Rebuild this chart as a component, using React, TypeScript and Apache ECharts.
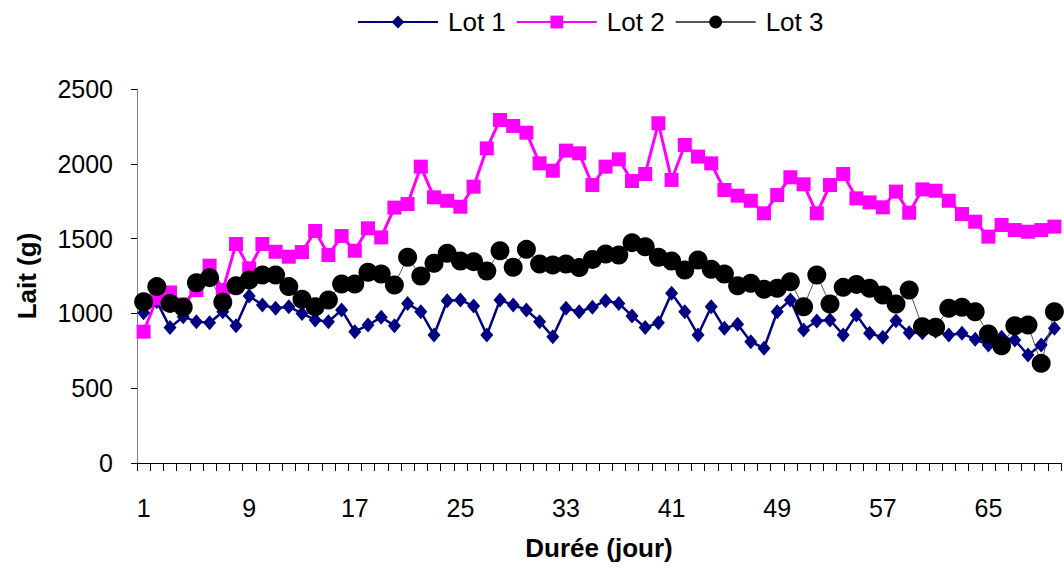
import React, { useEffect, useRef } from "react";
import * as echarts from "echarts";

// Days 1..70
const days: string[] = Array.from({ length: 70 }, (_, i) => String(i + 1));

const lot1: number[] = [
  1005, 1080, 905, 978, 945, 938, 1011, 918, 1116, 1056,
  1034, 1045, 1000, 956, 945, 1023, 878, 922, 974, 918,
  1067, 1011, 856, 1085, 1090, 1049, 855, 1090, 1056, 1023,
  945, 844, 1034, 1011, 1041, 1085, 1067, 983, 905, 938,
  1134, 1011, 856, 1045, 900, 927, 811, 767, 1011, 1090,
  889, 949, 956, 856, 989, 867, 840, 951, 870, 870,
  880, 856, 867, 827, 789, 840, 822, 722, 789, 900,
];

const lot2: number[] = [
  878, 1100, 1140, 1060, 1156, 1319, 1156, 1464, 1301, 1464,
  1412, 1379, 1410, 1551, 1390, 1517, 1419, 1569, 1508, 1707,
  1731, 1981, 1776, 1753, 1713, 1847, 2103, 2293, 2253, 2208,
  2003, 1954, 2088, 2070, 1858, 1981, 2030, 1885, 1932, 2271,
  1892, 2126, 2048, 2003, 1825, 1787, 1753, 1669, 1791, 1910,
  1863, 1669, 1858, 1932, 1769, 1742, 1709, 1814, 1673, 1829,
  1820, 1753, 1664, 1613, 1513, 1591, 1557, 1546, 1557, 1580,
];

const lot3: number[] = [
  1078, 1179, 1067, 1041, 1205, 1239, 1074, 1185, 1223, 1257,
  1257, 1179, 1094, 1045, 1090, 1196, 1196, 1275, 1263, 1190,
  1375, 1250, 1335, 1402, 1350, 1346, 1283, 1419, 1308, 1428,
  1330, 1323, 1330, 1306, 1361, 1397, 1390, 1473, 1446, 1375,
  1350, 1290, 1357, 1295, 1263, 1185, 1201, 1161, 1168, 1212,
  1045, 1257, 1063, 1174, 1194, 1168, 1123, 1063, 1156, 911,
  907, 1034, 1041, 1011, 862, 784, 918, 922, 666, 1011,
];

const FONT = "'Liberation Sans', Arial, sans-serif";

export default function App() {
  const ref = useRef<HTMLDivElement>(null);

  useEffect(() => {
    if (!ref.current) return;
    const chart = echarts.init(ref.current, undefined, { renderer: "svg" });
    chart.setOption({
      animation: false,
      backgroundColor: "#ffffff",
      textStyle: { fontFamily: FONT },
      legend: {
        top: 4,
        left: 352,
        itemWidth: 80,
        itemHeight: 16,
        itemGap: 10,
        textStyle: { fontFamily: FONT, fontSize: 26, color: "#000", padding: [0, 0, 0, 5] },
        data: ["Lot 1", "Lot 2", "Lot 3"],
      },
      grid: { left: 137, right: 3, top: 89, bottom: 106, containLabel: false },
      xAxis: {
        type: "category",
        data: days,
        boundaryGap: true,
        name: "Durée (jour)",
        nameLocation: "middle",
        nameGap: 72,
        nameTextStyle: { fontFamily: FONT, fontSize: 26, fontWeight: "bold", color: "#000" },
        axisLine: { lineStyle: { color: "#000", width: 1 } },
        axisTick: { show: true, interval: 0, length: 8, lineStyle: { color: "#000" } },
        axisLabel: { interval: 7, margin: 32, fontFamily: FONT, fontSize: 25, color: "#000" },
        splitLine: { show: false },
      },
      yAxis: {
        type: "value",
        min: 0,
        max: 2500,
        interval: 500,
        name: "Lait (g)",
        nameLocation: "middle",
        nameGap: 97,
        nameTextStyle: { fontFamily: FONT, fontSize: 26, fontWeight: "bold", color: "#000" },
        axisLine: { show: true, lineStyle: { color: "#808080", width: 1 } },
        axisTick: { show: true, length: 6, lineStyle: { color: "#000" } },
        axisLabel: {
          margin: 24,
          fontFamily: FONT,
          fontSize: 25,
          color: "#000",
          formatter: (v: number) => String(v),
        },
        splitLine: { show: false },
      },
      series: [
        {
          name: "Lot 1",
          type: "line",
          data: lot1,
          showAllSymbol: true,
          symbol: "diamond",
          symbolSize: [13, 15],
          itemStyle: { color: "#000080" },
          lineStyle: { color: "#000080", width: 2.5 },
        },
        {
          name: "Lot 2",
          type: "line",
          data: lot2,
          showAllSymbol: true,
          symbol: "rect",
          symbolSize: 14,
          itemStyle: { color: "#ff00ff" },
          lineStyle: { color: "#ff00ff", width: 3 },
        },
        {
          name: "Lot 3",
          type: "line",
          data: lot3,
          showAllSymbol: true,
          symbol: "circle",
          symbolSize: 19,
          itemStyle: { color: "#000000" },
          lineStyle: { color: "#555555", width: 1 },
        },
      ],
    });
    return () => chart.dispose();
  }, []);

  return (
    <div
      ref={ref}
      style={{ position: "fixed", left: 0, top: 0, width: 1064, height: 569 }}
    />
  );
}
